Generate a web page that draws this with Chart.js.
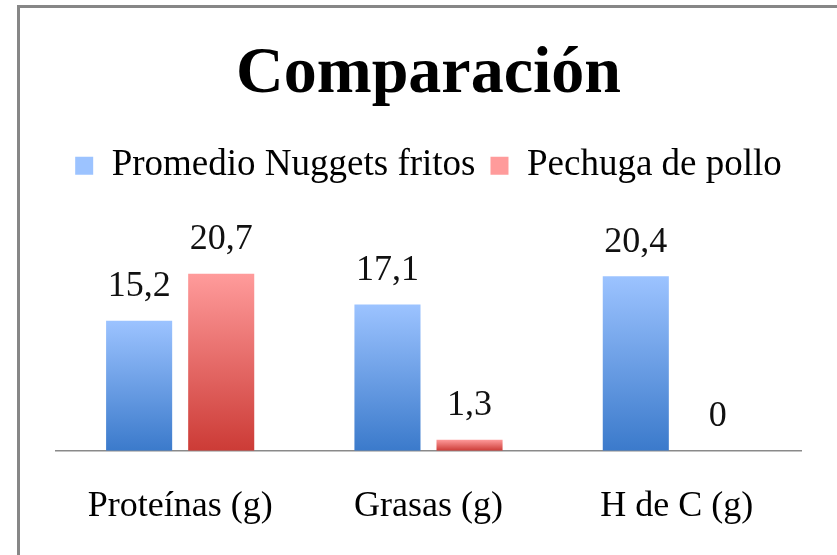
<!DOCTYPE html>
<html>
<head>
<meta charset="utf-8">
<script src="https://cdn.jsdelivr.net/npm/chart.js@4.4.0/dist/chart.umd.min.js"></script>
<style>
  html, body { margin: 0; padding: 0; background: #fff; }
  #wrap { position: relative; width: 837px; height: 555px; overflow: hidden; }
  #chart { position: absolute; left: 0; top: 0; }
  #frame {
    position: absolute; left: 17px; top: 5px; width: 900px; height: 600px;
    border-top: 3px solid #878787; border-left: 3px solid #878787;
    pointer-events: none;
  }
</style>
</head>
<body>
<div id="wrap">
  <canvas id="chart" width="837" height="555"></canvas>
  <div id="frame"></div>
</div>
<script>
const categories = ['Proteínas (g)', 'Grasas (g)', 'H de C (g)'];
const nuggets = [15.2, 17.1, 20.4];
const pechuga = [20.7, 1.3, 0];
const seriesNames = ['Promedio Nuggets fritos', 'Pechuga de pollo'];

const blueTop = '#9cc3ff', blueBottom = '#3b7acb', blueMid = '#6c9ee6';
const redTop = '#ff9b9b', redBottom = '#cc3b36', redMid = '#e86a68';

// vertical gradient per bar, light at the top and dark at the base
function barGradient(top, bottom, mid) {
    return ctx => {
        if (ctx.type !== 'data') return mid;
        const chart = ctx.chart;
        const y = chart.scales.y;
        if (!chart.chartArea || !y) return mid;
        const yTop = y.getPixelForValue(ctx.raw);
        const yBase = y.getPixelForValue(0);
        if (!isFinite(yTop) || Math.abs(yBase - yTop) < 1) return mid;
        const g = chart.ctx.createLinearGradient(0, yTop, 0, yBase);
        g.addColorStop(0, top);
        g.addColorStop(1, bottom);
        return g;
    };
}

const valueLabels = {
    id: 'valueLabels',
    afterDatasetsDraw(chart) {
        const ctx = chart.ctx;
        ctx.save();
        ctx.font = '36px "Liberation Serif", serif';
        ctx.fillStyle = '#111';
        ctx.textAlign = 'center';
        ctx.textBaseline = 'middle';
        chart.data.datasets.forEach((ds, i) => {
            chart.getDatasetMeta(i).data.forEach((bar, j) => {
                const txt = String(ds.data[j]).replace('.', ',');
                ctx.fillText(txt, bar.x, bar.y - 34);
            });
        });
        ctx.restore();
    }
};

new Chart(document.getElementById('chart'), {
    type: 'bar',
    data: {
        labels: categories,
        datasets: [
            {
                label: seriesNames[0],
                data: nuggets,
                backgroundColor: barGradient(blueTop, blueBottom, blueMid),
                borderWidth: 0
            },
            {
                label: seriesNames[1],
                data: pechuga,
                backgroundColor: barGradient(redTop, redBottom, redMid),
                borderWidth: 0
            }
        ]
    },
    options: {
        responsive: false,
        animation: false,
        layout: { padding: { left: 56, right: 36, top: 5, bottom: -7 } },
        datasets: {
            bar: { categoryPercentage: 0.661, barPercentage: 0.805 }
        },
        plugins: {
            title: {
                display: true,
                text: 'Comparación',
                color: '#000',
                font: { family: '"Liberation Serif", serif', size: 66, weight: 'bold' },
                padding: { top: 30, bottom: 18 }
            },
            legend: {
                position: 'top',
                labels: {
                    color: '#000',
                    font: { family: '"Liberation Serif", serif', size: 37 },
                    boxWidth: 18,
                    boxHeight: 18,
                    padding: 15
                }
            },
            tooltip: { enabled: false }
        },
        scales: {
            x: {
                grid: { display: false, drawTicks: false },
                border: { display: true, color: '#8a8a8a', width: 1.5 },
                ticks: {
                    color: '#000',
                    padding: 34,
                    font: { family: '"Liberation Serif", serif', size: 36 }
                }
            },
            y: {
                display: false,
                min: 0,
                max: 30
            }
        }
    },
    plugins: [valueLabels]
});
</script>
</body>
</html>
